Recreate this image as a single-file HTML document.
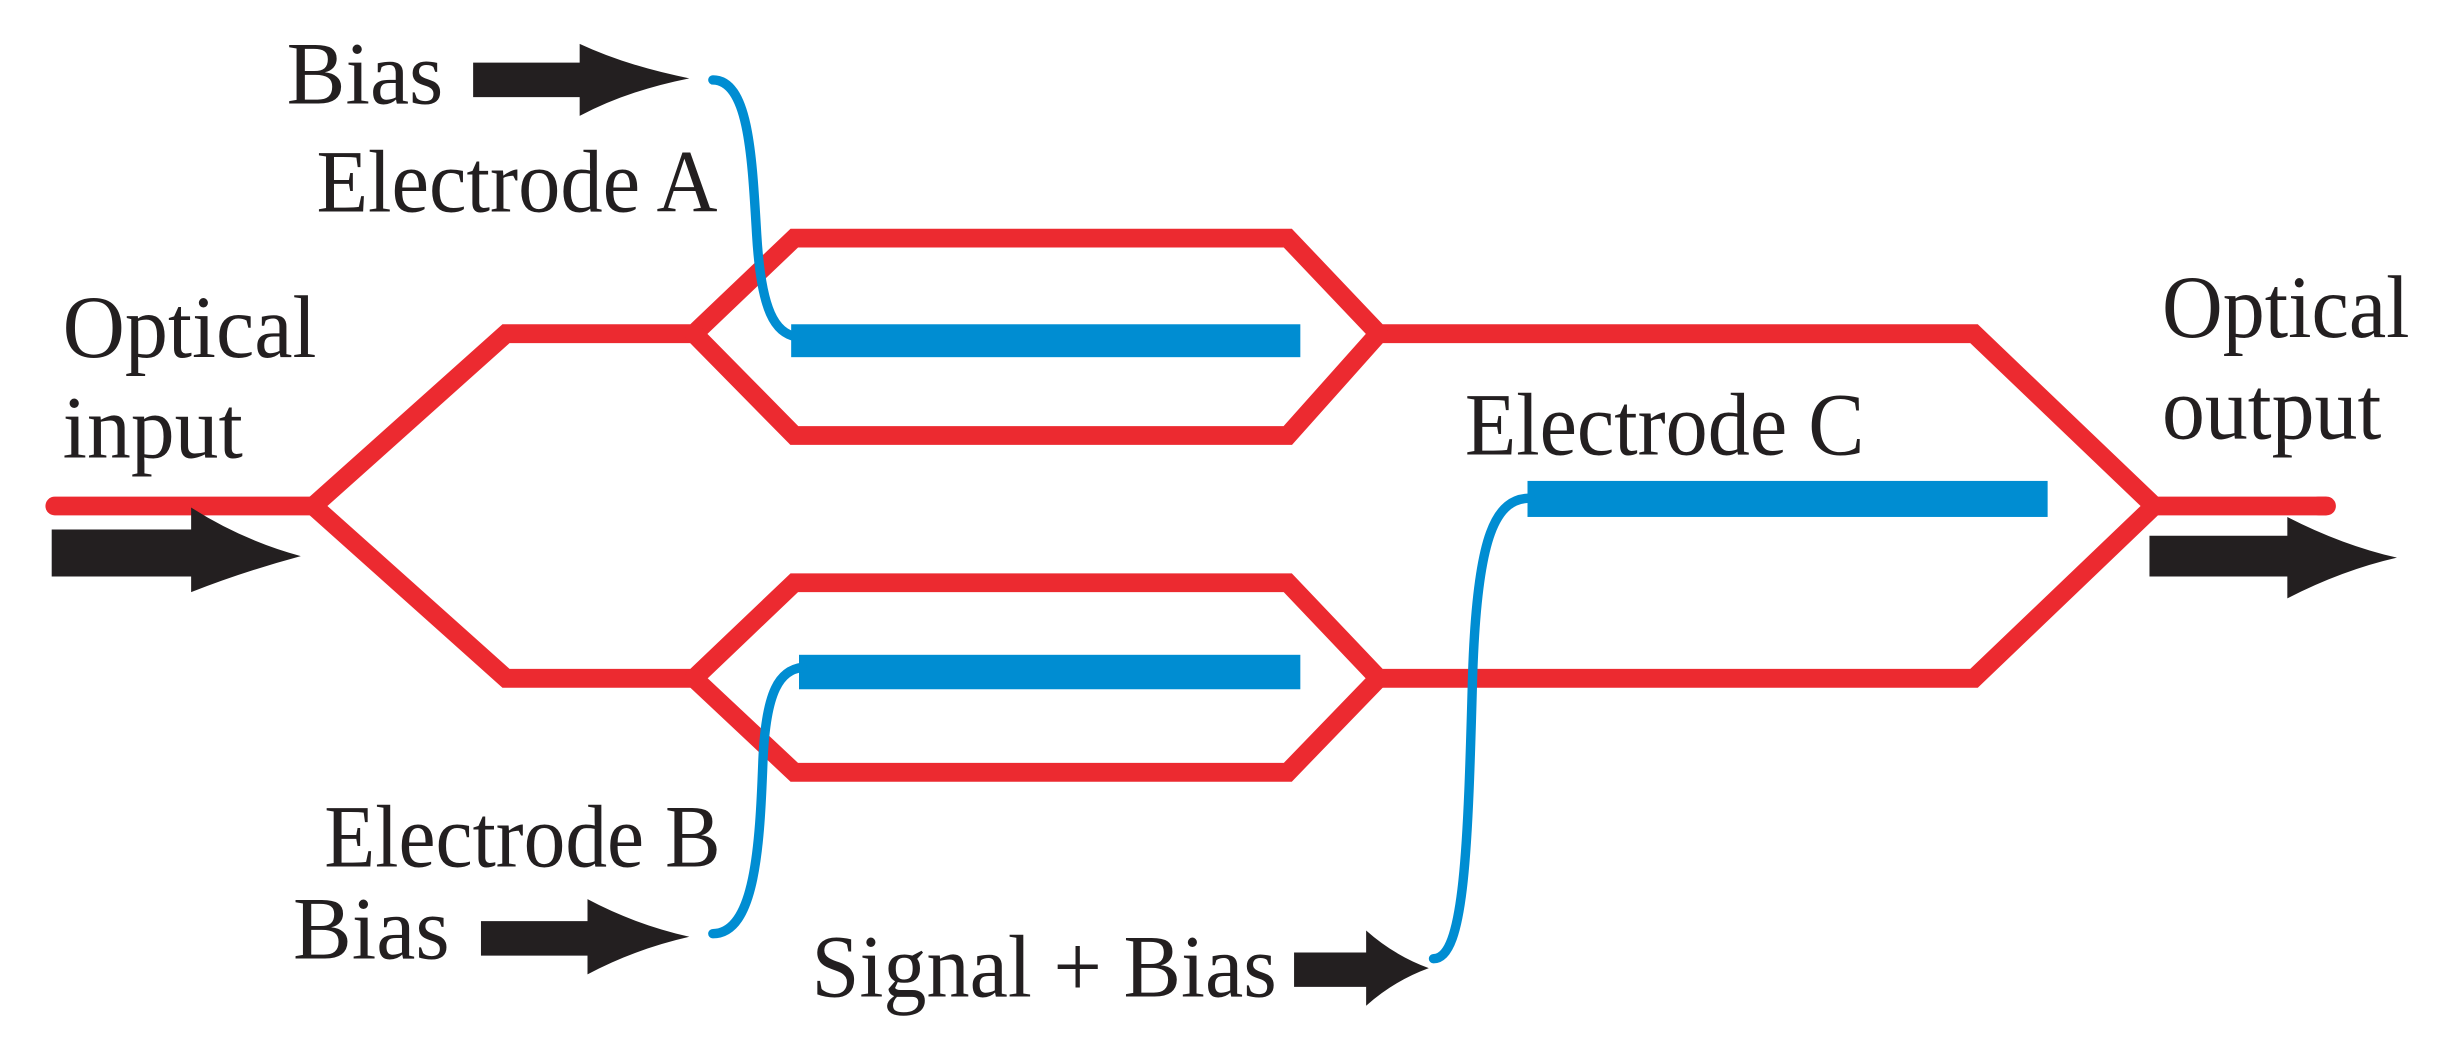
<!DOCTYPE html>
<html><head><meta charset="utf-8"><style>html,body{margin:0;padding:0;background:#fff}svg{display:block}</style></head>
<body>
<svg width="2444" height="1048" viewBox="0 0 1560 669" preserveAspectRatio="none" xmlns="http://www.w3.org/2000/svg">
<g fill="none" stroke="#ec2a30" stroke-width="12" stroke-linejoin="miter" stroke-linecap="round">
<path d="M35,323 L200,323"/>
<path d="M200,323 L323,213 L443,213 L507,152 L822,152 L880,213 L1260,213 L1375,323 L1485,323" stroke-linecap="butt"/>
<path d="M443,213 L507,278 L822,278 L880,213"/>
<path d="M200,323 L323,433 L443,433 L507,372 L822,372 L880,433 L1260,433 L1375,323"/>
<path d="M443,433 L507,493 L822,493 L880,433"/>
<path d="M1480,323 L1485,323"/>
</g>
<g fill="#008dd2">
<rect x="505" y="207" width="325" height="21"/>
<rect x="510" y="418" width="320" height="22"/>
<rect x="975" y="307" width="332" height="23"/>
</g>
<g fill="none" stroke="#008dd2" stroke-width="6" stroke-linecap="round">
<path d="M455,51 C478,51 480,100 483,150 C486,200 495,212 508,215"/>
<path d="M455,596 C482,596 485,540 487,485 C489,440 498,428 512,426"/>
<path d="M915,612 C935,612 937,540 940,430 C943,340 955,318 977,318"/>
</g>
<g fill="#231f20">
<path d="M302,40 H370 V28 Q400,42 440,50 Q400,58 370,74 V62 H302 Z"/>
<path d="M33,338 H122 V324 Q155,345 192,355 Q155,365 122,378 V368 H33 Z"/>
<path d="M1372,342 H1460 V330 Q1495,348 1530,356 Q1495,364 1460,382 V368 H1372 Z"/>
<path d="M307,588 H375 V574 Q405,590 440,598 Q405,606 375,622 V610 H307 Z"/>
<path d="M826,608 H872 V594 Q890,610 912,618 Q890,626 872,642 V630 H826 Z"/>
</g>
<g font-family="'Liberation Serif', serif" font-size="57" fill="#231f20">
<text x="183" y="66" textLength="100" lengthAdjust="spacingAndGlyphs">Bias</text>
<text x="202" y="135" textLength="256" lengthAdjust="spacingAndGlyphs">Electrode A</text>
<text x="40" y="228" textLength="162" lengthAdjust="spacingAndGlyphs">Optical</text>
<text x="40" y="292" textLength="115" lengthAdjust="spacingAndGlyphs">input</text>
<text x="207" y="553" textLength="253" lengthAdjust="spacingAndGlyphs">Electrode B</text>
<text x="187" y="612" textLength="100" lengthAdjust="spacingAndGlyphs">Bias</text>
<text x="518" y="636" textLength="297" lengthAdjust="spacingAndGlyphs">Signal + Bias</text>
<text x="935" y="290" textLength="255" lengthAdjust="spacingAndGlyphs">Electrode C</text>
<text x="1380" y="215" textLength="158" lengthAdjust="spacingAndGlyphs">Optical</text>
<text x="1380" y="280" textLength="140" lengthAdjust="spacingAndGlyphs">output</text>
</g>
</svg>
</body></html>
